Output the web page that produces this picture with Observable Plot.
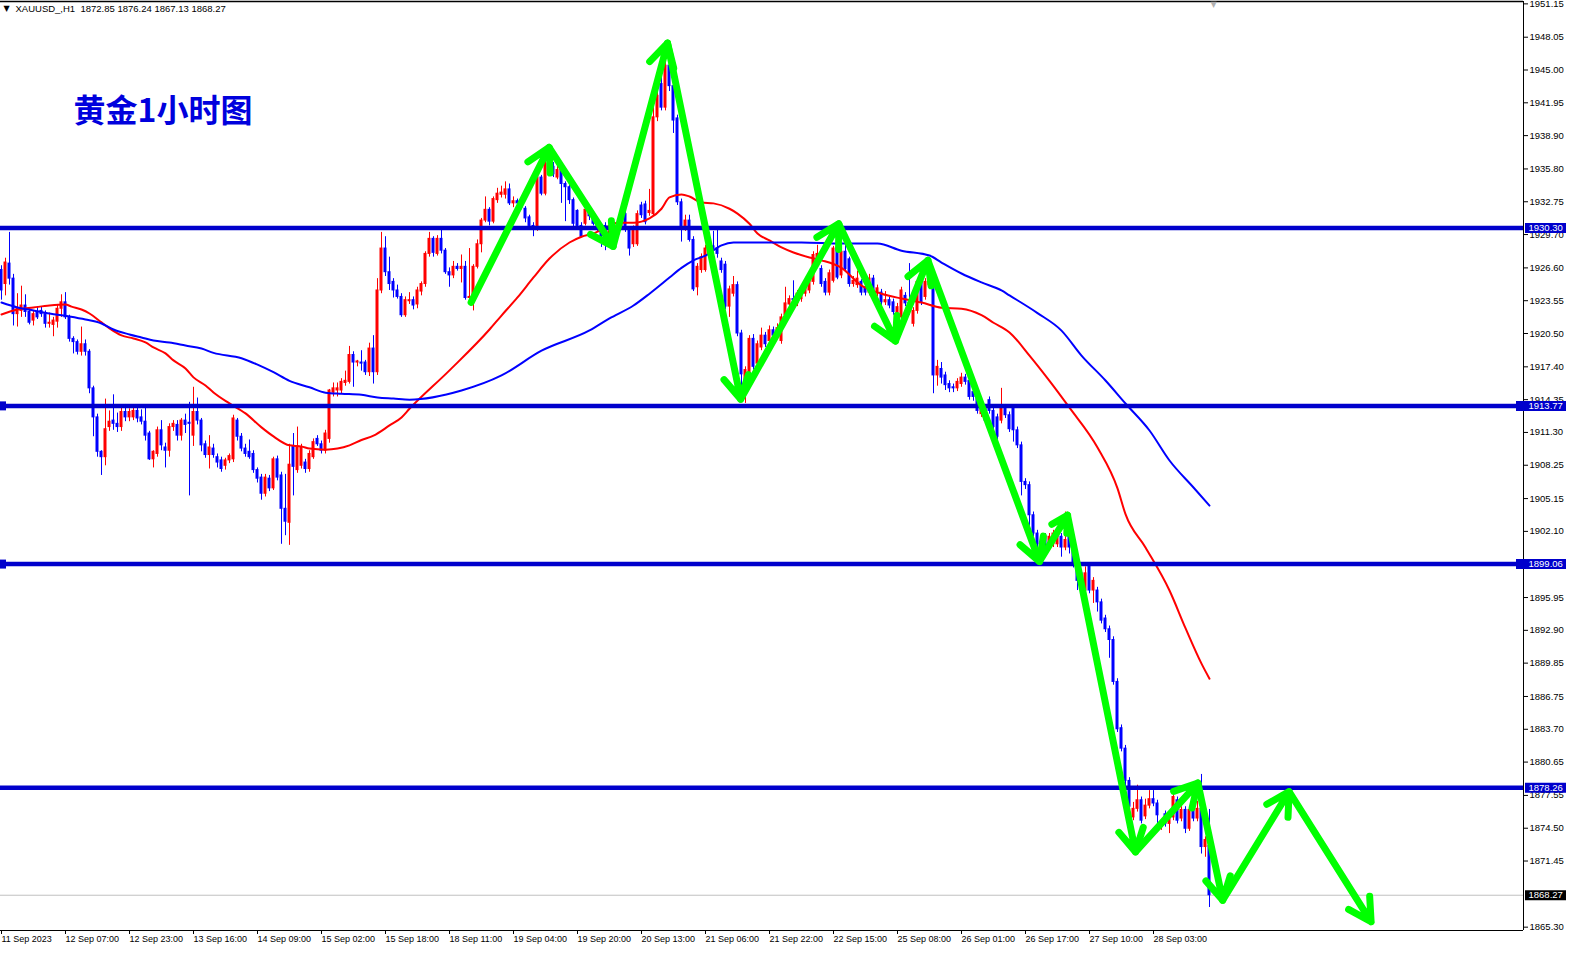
<!DOCTYPE html>
<html><head><meta charset="utf-8">
<script src="https://cdn.jsdelivr.net/npm/d3@7"></script>
<script src="https://cdn.jsdelivr.net/npm/@observablehq/plot@0.6"></script>
<style>html,body{margin:0;padding:0;background:#fff;overflow:hidden}</style>
</head><body><div id="chart"></div>
<script>
// ---- OHLC of XAUUSD H1 (index 0 = first bar on screen) ----
const opens = [
1926.4,1925.1,1927.0,1925.6,1922.3,1922.6,1923.1,1922.5,1921.7,1922.5,
1922.6,1922.3,1921.4,1921.3,1921.6,1922.8,1923.4,1922.0,1920.0,1919.7,
1918.8,1919.5,1918.8,1915.4,1912.7,1909.5,1909.0,1911.8,1912.4,1912.1,
1911.8,1913.2,1912.7,1912.7,1913.3,1912.7,1912.3,1911.2,1908.8,1909.3,
1911.5,1909.9,1909.6,1911.8,1912.0,1911.0,1912.4,1912.2,1911.0,1913.2,
1912.4,1910.2,1909.2,1909.8,1909.0,1908.7,1908.2,1908.7,1908.8,1912.4,
1910.9,1909.8,1909.5,1909.3,1907.8,1907.1,1905.6,1907.0,1906.1,1908.8,
1907.3,1904.2,1902.9,1910.0,1907.8,1908.2,1908.5,1907.9,1909.0,1910.7,
1910.2,1909.6,1910.7,1915.0,1915.2,1915.2,1915.9,1916.0,1918.5,1917.8,
1917.8,1917.8,1916.9,1919.1,1916.9,1924.5,1928.4,1926.2,1925.3,1924.5,
1923.9,1922.2,1923.5,1923.6,1923.2,1924.4,1925.1,1927.9,1929.3,1927.9,
1929.3,1928.2,1926.2,1925.9,1926.7,1926.5,1926.7,1923.8,1923.9,1926.7,
1928.8,1931.0,1932.0,1930.9,1932.9,1933.4,1933.4,1933.9,1932.6,1932.8,
1932.6,1932.1,1931.3,1930.5,1930.2,1935.0,1933.5,1936.3,1936.0,1935.0,
1935.7,1934.4,1934.1,1932.9,1931.9,1930.5,1930.7,1932.0,1931.4,1930.7,
1930.3,1930.5,1929.2,1930.0,1930.4,1930.4,1931.6,1930.2,1928.8,1928.8,
1932.4,1932.5,1931.7,1931.6,1940.6,1943.7,1941.5,1945.4,1943.5,1940.5,
1932.7,1930.4,1931.0,1929.2,1924.8,1926.4,1926.4,1928.5,1928.6,1928.4,
1927.2,1926.9,1923.0,1924.2,1925.0,1920.5,1915.2,1916.7,1920.0,1917.7,
1919.2,1920.3,1919.8,1920.8,1920.3,1919.8,1922.2,1923.2,1923.7,1923.3,
1923.7,1924.2,1924.5,1925.3,1927.0,1926.5,1925.3,1924.3,1925.4,1928.5,
1925.9,1928.1,1927.4,1925.1,1925.0,1925.3,1924.8,1924.3,1925.6,1924.2,
1924.3,1923.4,1923.6,1923.4,1921.6,1922.0,1924.0,1923.3,1921.4,1922.6,
1925.3,1923.9,1925.0,1925.0,1916.6,1917.2,1916.6,1915.8,1915.5,1915.4,
1915.8,1916.4,1916.1,1915.05,1914.4,1913.0,1913.5,1914.3,1913.3,1912.7,
1912.4,1913.6,1912.9,1913.5,1911.5,1910.1,1906.7,1906.4,1903.6,1901.9,
1900.9,1901.6,1900.6,1900.9,1900.9,1901.6,1900.6,1901.6,1900.6,1898.8,
1898.2,1896.6,1898.9,1896.6,1896.6,1895.5,1894.0,1893.0,1892.0,1888.1,
1883.8,1881.9,1878.9,1875.5,1876.3,1877.1,1875.6,1876.6,1877.2,1876.8,
1874.6,1875.8,1874.9,1875.5,1877.1,1875.4,1876.2,1874.45,1876.2,1875.4,
1876.3,1872.75,1872.85];
const highs = [
1926.8,1927.5,1929.9,1926.0,1924.2,1924.9,1924.1,1922.8,1922.6,1923.0,
1923.0,1922.6,1922.4,1922.0,1923.2,1924.1,1924.3,1922.2,1920.2,1919.9,
1921.1,1919.9,1919.0,1915.6,1913.0,1909.6,1914.4,1913.3,1914.8,1913.1,
1913.6,1913.9,1913.5,1913.7,1913.8,1913.4,1913.6,1911.4,1909.6,1911.8,
1912.4,1910.3,1912.1,1912.4,1912.4,1912.6,1913.0,1914.1,1915.5,1914.5,
1912.6,1910.5,1911.0,1910.2,1909.3,1909.0,1908.9,1909.3,1912.9,1912.6,
1911.2,1910.2,1910.6,1909.6,1908.0,1907.4,1907.4,1907.3,1909.0,1909.1,
1907.6,1907.4,1910.2,1911.2,1911.8,1910.2,1908.8,1909.6,1910.7,1911.0,
1910.5,1911.5,1915.3,1915.9,1915.9,1916.3,1917.0,1919.3,1918.8,1918.0,
1918.9,1918.0,1919.6,1920.3,1925.6,1929.9,1929.5,1927.6,1925.6,1925.0,
1924.2,1923.9,1924.3,1923.9,1924.8,1925.3,1928.1,1929.9,1929.5,1929.6,
1930.1,1928.4,1926.6,1927.2,1927.0,1927.8,1927.2,1928.4,1926.9,1929.2,
1931.2,1933.2,1932.2,1933.2,1934.0,1934.2,1934.6,1934.4,1933.2,1933.0,
1932.8,1932.3,1931.5,1930.8,1935.8,1935.2,1936.6,1936.9,1936.4,1936.2,
1935.9,1934.6,1934.3,1933.1,1932.0,1930.8,1932.2,1932.2,1931.6,1930.9,
1930.5,1930.8,1930.5,1930.9,1930.8,1931.9,1931.8,1930.4,1930.5,1931.9,
1932.7,1932.8,1933.9,1941.5,1943.0,1944.6,1945.8,1946.6,1943.8,1940.8,
1933.0,1931.5,1931.5,1929.5,1927.0,1927.9,1928.7,1928.9,1930.0,1930.1,
1927.5,1927.2,1924.9,1925.8,1925.3,1920.8,1917.4,1920.3,1920.4,1919.8,
1921.0,1920.6,1921.2,1921.1,1921.4,1922.3,1924.8,1924.0,1925.4,1924.5,
1924.9,1925.3,1926.0,1928.1,1928.7,1926.8,1925.6,1926.4,1928.6,1929.0,
1928.9,1929.0,1927.6,1925.8,1926.3,1925.5,1925.2,1926.0,1925.9,1925.0,
1924.6,1924.4,1923.9,1923.7,1923.3,1924.8,1924.3,1927.0,1922.9,1925.6,
1925.6,1925.6,1926.5,1925.3,1918.0,1917.8,1916.9,1916.1,1915.8,1916.3,
1916.8,1916.7,1916.4,1915.3,1914.7,1913.8,1913.8,1914.6,1913.6,1913.0,
1915.4,1913.9,1913.2,1913.8,1911.8,1910.4,1907.0,1906.7,1903.9,1902.2,
1901.6,1901.9,1901.9,1902.2,1901.9,1901.9,1903.9,1901.9,1900.9,1899.1,
1898.5,1898.8,1899.2,1897.8,1896.9,1895.8,1894.3,1893.3,1892.3,1888.4,
1884.1,1882.2,1879.2,1876.9,1878.5,1877.4,1877.2,1878.0,1878.0,1877.1,
1875.2,1876.1,1875.8,1877.7,1877.4,1876.5,1876.5,1876.5,1876.5,1877.0,
1879.5,1873.7,1876.24];
const lows = [
1923.6,1924.0,1925.0,1921.2,1921.1,1922.0,1922.0,1921.3,1921.2,1921.8,
1922.0,1921.0,1921.0,1920.2,1921.0,1922.0,1921.8,1919.7,1918.6,1918.5,
1918.4,1918.4,1914.9,1910.9,1909.0,1907.3,1908.2,1911.4,1911.5,1911.3,
1911.4,1912.3,1912.3,1912.4,1912.2,1912.0,1910.5,1908.7,1908.0,1909.0,
1909.6,1908.0,1909.0,1911.4,1910.5,1910.5,1911.2,1905.4,1910.0,1912.0,
1909.5,1908.9,1907.9,1908.9,1908.0,1907.6,1907.8,1908.4,1908.5,1910.5,
1909.5,1909.0,1908.8,1907.5,1906.6,1905.0,1905.3,1905.8,1905.9,1906.8,
1900.9,1901.7,1900.8,1905.4,1907.5,1907.9,1907.5,1907.6,1908.8,1910.0,
1909.3,1909.3,1910.3,1914.6,1914.6,1914.9,1915.6,1915.8,1915.5,1917.4,
1917.0,1916.6,1916.5,1915.8,1916.6,1924.2,1925.8,1924.5,1923.8,1923.7,
1922.0,1922.0,1923.2,1922.7,1922.8,1924.0,1924.8,1927.6,1927.6,1927.7,
1927.9,1926.0,1924.8,1925.6,1926.3,1925.2,1923.6,1923.5,1922.6,1926.5,
1928.0,1930.8,1930.5,1930.7,1932.6,1933.1,1933.0,1932.4,1932.2,1932.3,
1932.0,1930.8,1930.2,1929.5,1930.0,1933.3,1933.3,1935.8,1935.0,1934.8,
1932.6,1930.9,1932.5,1930.4,1930.2,1929.4,1930.5,1931.0,1930.5,1930.0,
1928.5,1928.2,1928.6,1929.4,1929.6,1930.1,1929.9,1927.7,1928.5,1928.6,
1931.2,1930.6,1931.4,1931.4,1940.2,1941.2,1941.2,1943.0,1939.1,1932.4,
1929.0,1930.0,1929.0,1924.4,1924.0,1926.1,1926.2,1927.8,1928.2,1927.5,
1926.1,1922.7,1922.0,1923.9,1920.2,1914.9,1914.0,1916.4,1917.1,1917.4,
1918.9,1919.2,1919.5,1920.0,1920.0,1919.5,1921.9,1922.9,1923.3,1923.0,
1923.4,1923.9,1924.2,1925.0,1926.7,1924.8,1924.0,1924.0,1925.2,1925.5,
1925.6,1926.2,1924.8,1924.8,1924.7,1924.0,1924.0,1924.0,1924.0,1923.9,
1923.1,1923.1,1922.8,1922.2,1921.3,1921.8,1923.0,1922.2,1921.1,1922.3,
1923.1,1923.6,1924.7,1914.9,1915.6,1915.8,1915.2,1915.0,1915.0,1915.1,
1915.5,1915.7,1914.3,1914.2,1913.0,1912.7,1912.1,1913.0,1911.5,1910.6,
1912.1,1912.6,1911.3,1910.4,1909.8,1905.4,1906.0,1901.3,1901.6,1900.6,
1900.3,1900.6,1900.3,1900.6,1900.6,1899.7,1900.3,1900.0,1898.7,1896.6,
1896.9,1896.3,1896.3,1895.4,1894.6,1893.5,1892.7,1890.3,1887.8,1883.4,
1881.6,1878.0,1875.6,1875.2,1876.0,1874.9,1875.3,1876.3,1876.5,1874.8,
1874.3,1874.6,1874.0,1875.2,1874.9,1875.1,1874.0,1874.2,1875.1,1875.1,
1872.1,1871.8,1867.13];
const closes = [
1924.5,1927.1,1925.6,1922.3,1922.8,1923.1,1922.5,1921.5,1922.3,1922.0,
1922.3,1921.4,1921.5,1921.7,1922.8,1923.4,1922.0,1920.0,1919.7,1918.8,
1919.5,1918.8,1915.4,1912.7,1909.5,1909.0,1911.6,1912.3,1912.1,1911.8,
1913.2,1912.7,1913.2,1913.3,1912.6,1912.3,1911.0,1908.8,1909.5,1911.5,
1910.1,1909.6,1911.8,1912.1,1911.0,1912.4,1912.0,1912.1,1913.2,1912.4,
1910.1,1909.2,1909.9,1909.2,1908.5,1907.9,1908.7,1909.1,1912.6,1910.9,
1909.8,1909.3,1909.0,1907.8,1907.0,1905.6,1907.1,1906.1,1908.8,1907.1,
1904.2,1903.0,1908.3,1908.1,1910.0,1909.9,1907.9,1909.3,1910.4,1910.2,
1909.6,1911.2,1915.2,1915.4,1915.4,1916.0,1916.1,1918.5,1917.8,1917.9,
1917.7,1916.9,1919.1,1916.9,1924.5,1928.4,1926.2,1925.1,1924.5,1923.9,
1922.2,1923.6,1923.6,1923.1,1924.5,1925.1,1927.9,1929.3,1928.0,1929.3,
1928.2,1926.2,1925.9,1926.7,1926.5,1926.7,1923.8,1923.9,1926.7,1928.8,
1931.0,1932.0,1930.9,1933.0,1933.5,1933.6,1933.9,1932.6,1932.8,1932.6,
1932.2,1931.2,1930.5,1930.2,1935.0,1933.5,1936.3,1936.2,1935.3,1935.7,
1934.4,1934.1,1932.9,1930.7,1930.5,1929.5,1932.0,1931.4,1930.7,1930.3,
1929.0,1929.2,1930.0,1930.4,1929.9,1931.6,1930.2,1928.4,1930.2,1931.6,
1931.5,1930.85,1931.9,1940.6,1942.6,1941.5,1945.4,1943.5,1940.3,1932.7,
1930.4,1931.0,1929.2,1924.6,1926.7,1927.6,1928.4,1928.1,1928.4,1927.9,
1926.4,1923.0,1924.6,1925.0,1920.5,1916.7,1917.1,1920.0,1917.4,1919.5,
1920.3,1919.5,1920.8,1920.3,1921.0,1922.0,1923.3,1923.7,1923.6,1924.2,
1924.6,1925.0,1925.7,1927.8,1927.9,1925.1,1924.3,1926.1,1928.4,1925.7,
1928.1,1926.5,1925.1,1925.4,1925.6,1924.3,1924.3,1925.6,1924.3,1924.7,
1923.4,1923.6,1923.1,1922.5,1922.95,1924.5,1923.3,1922.5,1922.6,1925.3,
1923.4,1925.3,1925.3,1916.6,1917.4,1916.4,1915.7,1915.4,1915.4,1916.0,
1916.4,1916.0,1914.6,1914.6,1913.3,1913.5,1912.4,1913.3,1911.8,1910.9,
1913.6,1912.9,1911.6,1911.5,1910.1,1906.7,1906.4,1903.6,1901.9,1900.9,
1900.6,1900.9,1901.6,1901.9,1901.6,1900.6,1901.3,1900.6,1899.0,1897.5,
1897.2,1898.2,1896.6,1897.5,1895.5,1893.8,1893.0,1892.0,1888.1,1883.7,
1881.9,1878.9,1876.5,1876.3,1877.1,1875.2,1876.6,1877.2,1876.8,1875.7,
1874.9,1874.9,1875.5,1877.4,1875.2,1876.2,1874.45,1876.2,1875.4,1876.3,
1872.75,1873.4,1868.27];

// ---- moving averages (bar index, price) ----
const redMABars = [0,4,8,12,16,17.5,20,22,25,27,30,33,36,38,41,43,46,48,51,53,57,61,65,68,72,75,77,81,84,87,90,93,97,100,102,112,122,125,129,133,137,142,145,148,152,154,158,162,165,167,170,172,175,178,182,184,187,189,192,195,198,202,205,210,215,220,225,230,235,240,245,248,252,257,262,267,274,279,281,286,292,296,300,302];
const redMAValues = [1922.27,1922.73,1922.92,1923.1,1923.19,1923.0,1922.73,1922.36,1921.53,1920.97,1920.32,1920.04,1919.67,1919.2,1918.65,1918.0,1917.25,1916.42,1915.67,1915.02,1914.0,1913.07,1911.77,1910.93,1910.1,1910.0,1909.8,1909.7,1909.8,1910.1,1910.6,1911.0,1911.95,1912.7,1913.5,1917.07,1920.87,1922.17,1923.85,1925.71,1927.47,1928.96,1929.5,1929.8,1930.53,1930.8,1930.8,1931.2,1932.1,1933.15,1933.43,1933.24,1932.68,1932.6,1932.1,1931.65,1930.7,1929.8,1929.15,1928.5,1928.03,1927.57,1927.3,1926.6,1924.95,1924.2,1923.75,1923.38,1922.9,1922.8,1922.2,1921.5,1920.6,1918.45,1916.1,1913.6,1909.9,1906.1,1903.7,1900.6,1896.6,1893.1,1889.8,1888.4];
const blueMABars = [0,4,8,12,17,21,25,28,32,35,38,42,46,50,53,60,64,68,72,77,81,85,90,94,98,102,115,125,135,147,152,158,162,167,170,173,176,180,183,192,200,210,219,225,232,235,240,245,250,252,259,265,270,276,281,287,292,298,302];
const blueMAValues = [1923.38,1922.92,1922.64,1922.36,1922.08,1921.8,1921.43,1920.87,1920.41,1920.13,1919.85,1919.66,1919.38,1919.1,1918.7,1918.2,1917.6,1916.9,1916.1,1915.5,1915.0,1914.9,1914.8,1914.55,1914.45,1914.35,1915.2,1916.6,1918.9,1920.78,1921.9,1923.1,1924.2,1925.7,1926.6,1927.3,1927.75,1928.7,1928.96,1928.96,1928.96,1928.86,1928.86,1928.2,1927.75,1927.1,1926.08,1925.25,1924.5,1924.04,1922.4,1920.77,1918.45,1916.13,1913.99,1911.48,1908.69,1906.18,1904.5];

// ---- horizontal levels, last price ----
const levels = [1930.30, 1913.77, 1899.06, 1878.26];
const lastPrice = 1868.27;

// ---- green zig-zag arrows (vertices: bar index, price) ----
const arrowBars   = [117.4, 136.9, 152.9, 166.5, 184.8, 209.3, 223.5, 231.6, 259.5, 266.5, 283.5, 299.1, 305.3, 321.9, 342.4];
const arrowPrices = [1923.4, 1937.8, 1928.6, 1947.5, 1914.4, 1930.7, 1919.8, 1927.3, 1899.3, 1903.6, 1872.3, 1878.7, 1867.8, 1877.9, 1865.8];

// ---- axis ticks ----
const timeTickBars = [0,16,32,48,64,80,96,112,128,144,160,176,192,208,224,240,256,272,288];
const timeLabels = ["11 Sep 2023","12 Sep 07:00","12 Sep 23:00","13 Sep 16:00","14 Sep 09:00","15 Sep 02:00","15 Sep 18:00","18 Sep 11:00","19 Sep 04:00","19 Sep 20:00","20 Sep 13:00","21 Sep 06:00","21 Sep 22:00","22 Sep 15:00","25 Sep 08:00","26 Sep 01:00","26 Sep 17:00","27 Sep 10:00","28 Sep 03:00"];
const priceTicks = [1951.15,1948.05,1945.00,1941.95,1938.90,1935.80,1932.75,1929.70,1926.60,1923.55,1920.50,1917.40,1914.35,1911.30,1908.25,1905.15,1902.10,1895.95,1892.90,1889.85,1886.75,1883.70,1880.65,1877.55,1874.50,1871.45,1865.30];

const titleText = "黄金1小时图";
const headerText = "XAUUSD_,H1  1872.85 1876.24 1867.13 1868.27";

// ---- build tables ----
const bars = closes.map((c, i) => ({i, o: opens[i], h: highs[i], l: lows[i], c}));
const candleColor = d => d.c >= d.o ? "#ff0000" : "#0000ff";
const redMA = redMABars.map((b, k) => ({i: b, p: redMAValues[k]}));
const blueMA = blueMABars.map((b, k) => ({i: b, p: blueMAValues[k]}));
const segments = arrowBars.slice(1).map((b, k) => ({x1: arrowBars[k], y1: arrowPrices[k], x2: b, y2: arrowPrices[k + 1]}));
const timeLabelOf = new Map(timeTickBars.map((b, k) => [b, timeLabels[k]]));

const xDomain = [-0.25, 380.5];
const yDomain = [1864.99, 1951.37];
const pxPerBar = 4;
const LEVEL = "#0000cc";

const chart = Plot.plot({
  width: 1572, height: 953,
  marginLeft: 0, marginRight: 49, marginTop: 1, marginBottom: 23,
  x: {domain: xDomain, axis: null, label: null},
  y: {domain: yDomain, axis: null, label: null},
  style: {fontFamily: "'Liberation Sans', Arial, sans-serif", fontSize: "9.5px", background: "#ffffff", color: "#000"},
  marks: [
    Plot.ruleY([lastPrice], {stroke: "#c0c0c0", strokeWidth: 1}),
    Plot.ruleX(bars, {x: "i", y1: "l", y2: "h", stroke: candleColor, strokeWidth: 1}),
    Plot.rect(bars, {x1: d => d.i - 0.375, x2: d => d.i + 0.375, y1: "o", y2: "c", fill: candleColor, insetTop: -0.5, insetBottom: -0.5}),
    Plot.line(redMA, {x: "i", y: "p", stroke: "#ff0000", strokeWidth: 2, curve: "monotone-x"}),
    Plot.line(blueMA, {x: "i", y: "p", stroke: "#0000ff", strokeWidth: 2, curve: "monotone-x"}),
    Plot.ruleY(levels, {stroke: LEVEL, strokeWidth: 4.5}),
    Plot.ruleY([levels[1], levels[2]], {x1: () => xDomain[0], x2: () => xDomain[0] + 6 / pxPerBar, stroke: LEVEL, strokeWidth: 9}),
    // frame lines
    Plot.ruleX([xDomain[1]], {stroke: "#000", strokeWidth: 1}),
    Plot.ruleY([yDomain[0]], {stroke: "#000", strokeWidth: 1}),
    Plot.ruleY([yDomain[1]], {stroke: "#000", strokeWidth: 1.5}),
    // axes
    Plot.axisY({anchor: "right", ticks: priceTicks, tickFormat: d => d.toFixed(2), tickSize: 4, tickPadding: 2, fontSize: 9.5, label: null}),
    Plot.axisX({anchor: "bottom", ticks: timeTickBars, tickFormat: d => timeLabelOf.get(d), tickSize: 4, tickPadding: 1, textAnchor: "start", fontSize: 9, label: null}),
    // level price boxes on the price axis
    Plot.ruleY(levels, {x1: (d, k) => xDomain[1] + ((k === 1 || k === 2) ? -7 : 2) / pxPerBar, x2: () => xDomain[1] + 43 / pxPerBar, stroke: LEVEL, strokeWidth: 10}),
    Plot.text(levels, {x: () => xDomain[1], y: d => d, text: d => d.toFixed(2), dx: 5, textAnchor: "start", fill: "#ffffff", fontSize: 9.5}),
    Plot.ruleY([lastPrice], {x1: () => xDomain[1] + 2 / pxPerBar, x2: () => xDomain[1] + 43 / pxPerBar, stroke: "#000", strokeWidth: 10}),
    Plot.text([lastPrice], {x: () => xDomain[1], y: d => d, text: d => d.toFixed(2), dx: 5, textAnchor: "start", fill: "#ffffff", fontSize: 9.5}),
    // green arrows
    Plot.arrow(segments, {x1: "x1", y1: "y1", x2: "x2", y2: "y2", stroke: "#00ff00", strokeWidth: 7, headLength: 5.5, headAngle: 58, strokeLinecap: "round", strokeLinejoin: "round"}),
    // texts
    Plot.text([titleText], {frameAnchor: "top-left", dx: 73, dy: 110, lineAnchor: "middle", textAnchor: "start", fontFamily: "'Noto Sans CJK SC', sans-serif", fontWeight: "bold", fontSize: 32, fill: "#0000dd"}),
    Plot.text(["▼"], {frameAnchor: "top-left", dx: 3, dy: 7, lineAnchor: "middle", textAnchor: "start", fontSize: 8, fontFamily: "'DejaVu Sans', sans-serif"}),
    Plot.text([headerText], {frameAnchor: "top-left", dx: 15, dy: 7, lineAnchor: "middle", textAnchor: "start", fontSize: 9.5}),
    Plot.text(["▼"], {x: () => 303, frameAnchor: "top", dy: 0, lineAnchor: "top", fontSize: 8, fill: "#b0b0b0", fontFamily: "'DejaVu Sans', sans-serif"})
  ]
});
document.getElementById("chart").appendChild(chart);
</script>
</body></html>
